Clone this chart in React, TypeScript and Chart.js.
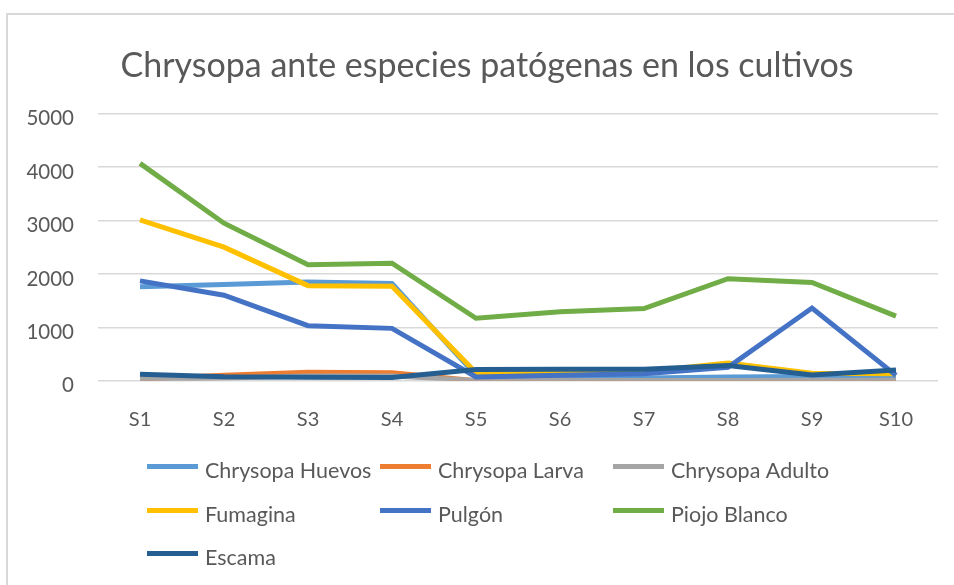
import React, { useEffect, useRef } from "react";
import { Chart, registerables } from "chart.js";

Chart.register(...registerables);

const categories = ["S1", "S2", "S3", "S4", "S5", "S6", "S7", "S8", "S9", "S10"];
const yTicks = [0, 1000, 2000, 3000, 4000, 5000];
const chartTitle = "Chrysopa ante especies patógenas en los cultivos";
const seriesNames = [
  "Chrysopa Huevos",
  "Chrysopa Larva",
  "Chrysopa Adulto",
  "Fumagina",
  "Pulgón",
  "Piojo Blanco",
  "Escama",
];
const huevos = [1760, 1800, 1850, 1820, 100, 60, 50, 70, 80, 70];
const larva = [30, 100, 160, 150, 0, 0, 0, 0, 0, 0];
const adulto = [25, 50, 90, 90, 5, 5, 5, 5, 10, 10];
const fumagina = [3010, 2500, 1780, 1770, 150, 150, 170, 330, 140, 130];
const pulgon = [1870, 1600, 1030, 980, 70, 100, 130, 250, 1360, 100];
const piojo = [4070, 2950, 2170, 2200, 1170, 1290, 1350, 1910, 1840, 1210];
const escama = [120, 75, 65, 60, 210, 215, 215, 285, 105, 200];
const colors = ["#5B9BD5", "#ED7D31", "#A5A5A5", "#FFC000", "#4472C4", "#70AD47", "#255E91"];

const FONT = "Lato, 'Open Sans', sans-serif";

const framePlugin = {
  id: "frame",
  beforeDraw(chart: any) {
    const ctx = chart.ctx;
    ctx.save();
    ctx.fillStyle = "#ffffff";
    ctx.fillRect(0, 0, chart.width, chart.height);
    ctx.strokeStyle = "#d9d9d9";
    ctx.lineWidth = 2;
    ctx.strokeRect(7, 14, chart.width + 20, chart.height + 20);
    ctx.restore();
  },
};

const titlePlugin = {
  id: "centredTitle",
  afterDraw(chart: any) {
    const ctx = chart.ctx;
    ctx.save();
    ctx.font = `34px ${FONT}`;
    ctx.fillStyle = "#595959";
    ctx.textAlign = "center";
    ctx.textBaseline = "alphabetic";
    ctx.fillText(chartTitle, 487, 77);
    ctx.restore();
  },
};

const legendPlugin = {
  id: "gridLegend",
  afterDraw(chart: any) {
    const ctx = chart.ctx;
    const colX = [147, 380, 613];
    const rowY = [471.5, 515.5, 558.5];
    ctx.save();
    ctx.font = `21.5px ${FONT}`;
    ctx.textBaseline = "middle";
    ctx.textAlign = "left";
    chart.data.datasets.forEach((ds: any, i: number) => {
      const x = colX[i % 3];
      const y = rowY[Math.floor(i / 3)];
      ctx.strokeStyle = ds.borderColor;
      ctx.lineWidth = 5;
      ctx.lineCap = "butt";
      ctx.beginPath();
      ctx.moveTo(x, y - 5);
      ctx.lineTo(x + 51, y - 5);
      ctx.stroke();
      ctx.fillStyle = "#595959";
      ctx.fillText(ds.label, x + 58, y);
    });
    ctx.restore();
  },
};

export default function App() {
  const ref = useRef<HTMLCanvasElement>(null);
  useEffect(() => {
    if (!ref.current) return;
    const values = [huevos, larva, adulto, fumagina, pulgon, piojo, escama];
    const chart = new Chart(ref.current, {
      type: "line",
      data: {
        labels: categories,
        datasets: values.map((v, i) => ({
          label: seriesNames[i],
          data: v,
          borderColor: colors[i],
          backgroundColor: colors[i],
          borderWidth: 5,
          pointRadius: 0,
          tension: 0,
          fill: false,
          order: values.length - 1 - i,
        })),
      },
      options: {
        responsive: false,
        animation: false,
        layout: { padding: { left: 0, right: 16, top: 113.7, bottom: 0 } },
        plugins: {
          legend: { display: false },
          tooltip: { enabled: false },
          title: { display: false },
        },
        scales: {
          x: {
            offset: true,
            grid: { display: false },
            border: { display: false },
            ticks: { color: "#595959", font: { family: FONT, size: 20 }, padding: 19 },
            afterFit: (s: any) => {
              s.height = 204.3;
            },
          },
          y: {
            min: 0,
            max: 5000,
            afterBuildTicks: (s: any) => {
              s.ticks = yTicks.map((v) => ({ value: v }));
            },
            grid: { color: "#d9d9d9", lineWidth: 1.5, drawTicks: false },
            border: { display: false },
            ticks: {
              color: "#595959",
              font: { family: FONT, size: 20.5 },
              padding: 24,
              labelOffset: 5,
              callback: (v: any) => String(v),
            },
            afterFit: (s: any) => {
              s.width = 98;
            },
          },
        },
      },
      plugins: [framePlugin, titlePlugin, legendPlugin],
    });
    return () => chart.destroy();
  }, []);
  return (
    <div style={{ position: "absolute", left: 0, top: 0, width: 954, height: 585, overflow: "hidden" }}>
      <canvas ref={ref} width={954} height={585} />
    </div>
  );
}
